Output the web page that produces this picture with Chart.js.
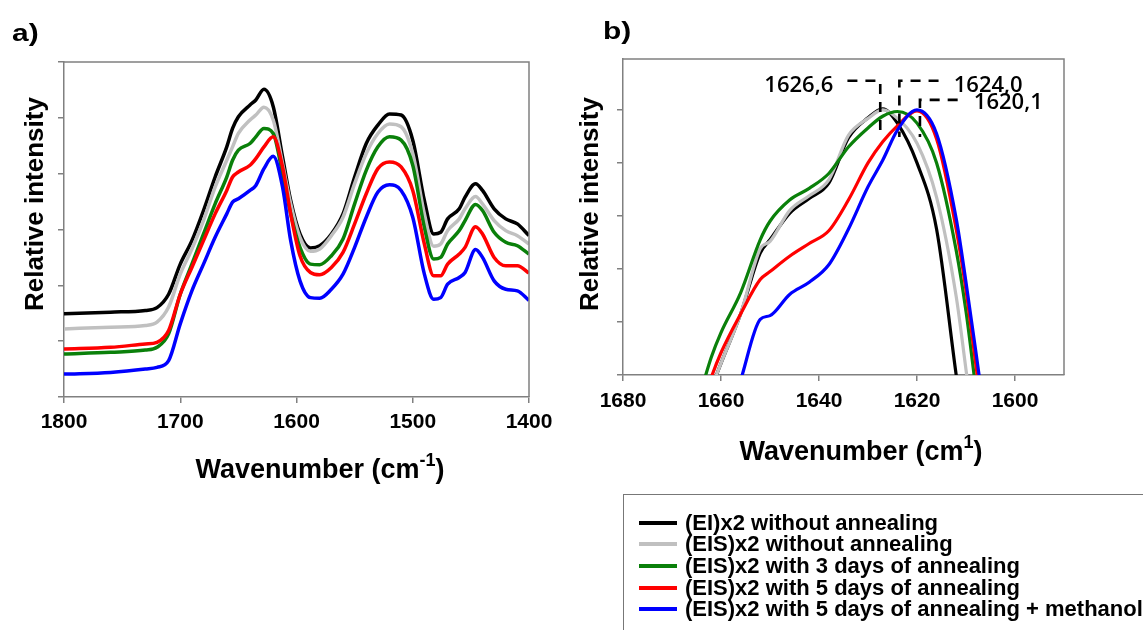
<!DOCTYPE html>
<html>
<head>
<meta charset="utf-8">
<script src="https://cdn.jsdelivr.net/npm/chart.js@4.4.1/dist/chart.umd.min.js"></script>
<style>
  body { margin: 0; background: #fff; width: 1143px; height: 630px; overflow: hidden; position: relative;
         font-family: "Liberation Sans", Arial, sans-serif; color: #000; }
  .abs { position: absolute; }
  #wrapA { left: 0; top: 0; width: 570px; height: 500px; }
  #wrapB { left: 580px; top: 0; width: 563px; height: 500px; }
  .panel { font-weight: bold; font-size: 23px; line-height: 23px; transform: scaleX(1.3); transform-origin: left top; }
  .ytitle { font-weight: bold; font-size: 26px; line-height: 26px; white-space: nowrap;
            transform: translate(-50%, -50%) rotate(-90deg); }
  .xtitle { font-weight: bold; font-size: 27px; line-height: 27px; white-space: nowrap; transform: translateX(-50%); }
  .xtitle sup { font-size: 18px; vertical-align: 0; position: relative; top: -12px; }
  #legend { left: 623px; top: 494px; width: 560px; height: 200px; border: 1.5px solid #777;
            padding-top: 17px; box-sizing: border-box; }
  #legend .row { display: flex; align-items: center; height: 21.6px; padding-left: 15px;
                 font-weight: bold; font-size: 22px; white-space: nowrap; }
  #legend .sw { display: inline-block; width: 38px; height: 4px; margin-right: 8px; }
</style>
</head>
<body>
<div id="wrapA" class="abs"><canvas id="chartA" width="570" height="500"></canvas></div>
<div id="wrapB" class="abs"><canvas id="chartB" width="563" height="500"></canvas></div>

<div class="abs panel" style="left:12px; top:22px;">a)</div>
<div class="abs panel" style="left:603px; top:20px;">b)</div>
<div class="abs ytitle" style="left:34px; top:204px;">Relative intensity</div>
<div class="abs ytitle" style="left:589px; top:204px;">Relative intensity</div>
<div class="abs xtitle" style="left:320px; top:456px;">Wavenumber (cm<sup>-1</sup>)</div>
<div class="abs xtitle" style="left:861px; top:438px;">Wavenumber (cm<sup>1</sup>)</div>
<div id="legend" class="abs"></div>

<script>
Chart.defaults.font.family = '"Liberation Sans", Arial, sans-serif';

const names = [
  "(EI)x2 without annealing",
  "(EIS)x2 without annealing",
  "(EIS)x2 with 3 days of annealing",
  "(EIS)x2 with 5 days of annealing",
  "(EIS)x2 with 5 days of annealing + methanol"
];
const colors = ["#000000", "#c0c0c0", "#0a800a", "#ff0000", "#0000ff"];

// panel a) full spectra
const waveA = [1800, 1760, 1730, 1720, 1710, 1700, 1690, 1680, 1670, 1660, 1655, 1650, 1640, 1635, 1628, 1620,
  1612, 1605, 1597, 1588, 1580, 1570, 1560, 1550, 1540, 1530, 1520, 1510, 1500, 1490, 1482, 1476, 1470, 1460,
  1455, 1446, 1440, 1430, 1420, 1410, 1400];
const blackA = [1.49, 1.52, 1.55, 1.60, 1.84, 2.38, 2.80, 3.34, 3.94, 4.48, 4.81, 5.02, 5.23, 5.32, 5.51, 5.20,
  4.30, 3.52, 2.92, 2.67, 2.71, 2.92, 3.28, 3.94, 4.54, 4.87, 5.07, 5.05, 4.60, 3.52, 2.92, 2.95, 3.19, 3.37,
  3.58, 3.82, 3.70, 3.37, 3.19, 3.10, 2.89];
const grayA = [1.22, 1.25, 1.28, 1.34, 1.61, 2.20, 2.65, 3.16, 3.76, 4.24, 4.48, 4.72, 4.96, 5.05, 5.19, 4.96,
  4.18, 3.46, 2.86, 2.61, 2.65, 2.89, 3.22, 3.82, 4.36, 4.72, 4.89, 4.84, 4.36, 3.28, 2.70, 2.74, 2.98, 3.19,
  3.37, 3.59, 3.46, 3.16, 2.98, 2.89, 2.74];
const greenA = [0.77, 0.80, 0.84, 0.89, 1.13, 1.84, 2.38, 2.92, 3.46, 3.94, 4.24, 4.42, 4.54, 4.66, 4.81, 4.72,
  4.00, 3.28, 2.68, 2.38, 2.37, 2.53, 2.83, 3.46, 4.06, 4.48, 4.66, 4.60, 4.15, 3.04, 2.47, 2.50, 2.74, 2.98,
  3.16, 3.45, 3.34, 2.95, 2.77, 2.71, 2.56];
const redA = [0.86, 0.89, 0.95, 0.98, 1.19, 1.84, 2.32, 2.80, 3.28, 3.70, 3.94, 4.03, 4.15, 4.27, 4.48, 4.66,
  4.12, 3.28, 2.53, 2.23, 2.19, 2.32, 2.59, 3.10, 3.64, 4.09, 4.21, 4.12, 3.70, 2.74, 2.17, 2.17, 2.38, 2.56,
  2.68, 3.05, 2.92, 2.50, 2.35, 2.35, 2.22];
const blueA = [0.41, 0.44, 0.50, 0.53, 0.65, 1.31, 1.90, 2.38, 2.86, 3.28, 3.49, 3.55, 3.70, 3.79, 4.09, 4.31,
  3.76, 2.80, 2.08, 1.78, 1.77, 1.93, 2.20, 2.68, 3.22, 3.67, 3.80, 3.70, 3.22, 2.20, 1.75, 1.78, 2.02, 2.14,
  2.23, 2.64, 2.50, 2.08, 1.93, 1.90, 1.73];
const ticksAx = [1800, 1700, 1600, 1500, 1400];
const ticksAy = [0, 1, 2, 3, 4, 5, 6];

// panel b) zoom on the amide I peak
const waveB = [1665, 1662, 1660, 1656, 1652, 1650, 1646, 1642, 1638, 1634, 1630, 1627, 1624, 1620, 1616, 1612,
  1610, 1608, 1606];
const blackB = [-0.9, -0.25, 0.22, 1.15, 2.30, 2.55, 3.05, 3.33, 3.62, 4.47, 4.85, 5.02, 4.75, 4.00, 2.75, 0.0,
  -1.3, -2.6, -3.9];
const grayB = [-0.9, -0.25, 0.22, 1.15, 2.38, 2.52, 3.10, 3.38, 3.68, 4.52, 4.84, 5.00, 4.84, 4.37, 3.35, 1.48,
  0.1, -1.3, -2.6];
const greenB = [-0.6, 0.33, 0.80, 1.55, 2.55, 2.90, 3.30, 3.52, 3.80, 4.30, 4.66, 4.88, 4.97, 4.75, 4.00, 2.35,
  1.20, -0.25, -1.6];
const redB = [-0.9, -0.05, 0.42, 1.15, 1.80, 1.95, 2.24, 2.48, 2.72, 3.30, 4.00, 4.40, 4.70, 4.98, 4.45, 2.75,
  1.60, 0.20, -1.2];
const blueB = [-2.8, -1.9, -1.25, -0.1, 1.05, 1.12, 1.52, 1.75, 2.08, 2.75, 3.55, 4.05, 4.62, 5.00, 4.55, 2.95,
  1.75, 0.45, -0.9];
const ticksBx = [1680, 1660, 1640, 1620, 1600];
const ticksBy = [0, 1, 2, 3, 4, 5];

// dashed peak markers in panel b
const markX1 = [1634.2, 1627.5, 1627.5], markY1 = [5.55, 5.55, 4.49];
const markX2 = [1615.6, 1623.6, 1623.6], markY2 = [5.55, 5.55, 4.49];
const markX3 = [1611.7, 1619.4, 1619.4], markY3 = [5.19, 5.19, 4.49];
const markText = ["1626,6", "1624,0", "1620,1"];
const markTextX = [1637.1, 1612.5, 1608.4];
const markTextY = [5.45, 5.45, 5.13];
const markAlign = ["right", "left", "left"];

function toPoints(xs, ys) {
  return xs.map((x, k) => ({ x: x, y: ys[k] }));
}

function series(xs, ys, i, bw) {
  return {
    label: names[i],
    data: toPoints(xs, ys),
    borderColor: colors[i],
    borderWidth: bw,
    pointRadius: 0,
    cubicInterpolationMode: "monotone",
    fill: false,
    order: names.length - i
  };
}

function marker(xs, ys) {
  return {
    label: "marker",
    data: toPoints(xs, ys),
    borderColor: "#000",
    borderWidth: 2.6,
    borderDash: [10, 8],
    pointRadius: 0,
    tension: 0,
    fill: false,
    order: -1
  };
}

const axisLine = { color: "#808080", width: 1.5 };
const tickGrid = { drawOnChartArea: false, drawTicks: true, tickLength: 6, color: "#808080", lineWidth: 1.5 };

function xAxis(min, max, ticks, h, pad) {
  return {
    type: "linear", reverse: true, min: min, max: max,
    afterBuildTicks: ax => { ax.ticks = ticks.map(v => ({ value: v })); },
    afterFit: ax => { ax.height = h; },
    ticks: { color: "#000", font: { size: 21, weight: "bold" }, padding: pad, maxRotation: 0, autoSkip: false,
             callback: v => String(v) },
    grid: tickGrid,
    border: axisLine
  };
}

function yAxis(min, max, ticks, w) {
  return {
    type: "linear", min: min, max: max,
    afterBuildTicks: ax => { ax.ticks = ticks.map(v => ({ value: v })); },
    afterFit: ax => { ax.width = w; },
    ticks: { callback: () => "", padding: 0 },
    grid: tickGrid,
    border: axisLine
  };
}

// top and right side of the plot box
const framePlugin = {
  id: "frame",
  afterDatasetsDraw(chart) {
    const { ctx, chartArea: a } = chart;
    ctx.save();
    ctx.strokeStyle = "#808080";
    ctx.lineWidth = 1.5;
    ctx.beginPath();
    ctx.moveTo(a.left, a.top);
    ctx.lineTo(a.right, a.top);
    ctx.lineTo(a.right, a.bottom);
    ctx.stroke();
    ctx.restore();
  }
};

const markLabels = {
  id: "markLabels",
  afterDatasetsDraw(chart) {
    const { ctx, scales } = chart;
    ctx.save();
    ctx.font = '600 22px "Open Sans"';
    ctx.fillStyle = "#000";
    ctx.textBaseline = "middle";
    markText.forEach((t, i) => {
      ctx.textAlign = markAlign[i];
      ctx.fillText(t, scales.x.getPixelForValue(markTextX[i]), scales.y.getPixelForValue(markTextY[i]));
    });
    ctx.restore();
  }
};

const common = {
  responsive: false,
  animation: false,
  plugins: { legend: { display: false }, tooltip: { enabled: false } }
};

new Chart(document.getElementById("chartA"), {
  type: "line",
  data: {
    datasets: [
      series(waveA, blackA, 0, 3.5),
      series(waveA, grayA, 1, 3.5),
      series(waveA, greenA, 2, 3.5),
      series(waveA, redA, 3, 3.5),
      series(waveA, blueA, 4, 3.5)
    ]
  },
  options: Object.assign({}, common, {
    layout: { padding: { left: 0, top: 62, right: 41, bottom: 0 } },
    scales: {
      x: xAxis(1400, 1800, ticksAx, 103, 7),
      y: yAxis(0, 6, ticksAy, 64)
    }
  }),
  plugins: [framePlugin]
});

new Chart(document.getElementById("chartB"), {
  type: "line",
  data: {
    datasets: [
      series(waveB, blackB, 0, 3.2),
      series(waveB, grayB, 1, 3.2),
      series(waveB, greenB, 2, 3.2),
      series(waveB, redB, 3, 3.2),
      series(waveB, blueB, 4, 3.2),
      marker(markX1, markY1),
      marker(markX2, markY2),
      marker(markX3, markY3)
    ]
  },
  options: Object.assign({}, common, {
    layout: { padding: { left: 0, top: 59, right: 79, bottom: 0 } },
    scales: {
      x: xAxis(1590, 1680, ticksBx, 125, 8),
      y: yAxis(0, 5.96, ticksBy, 43)
    }
  }),
  plugins: [framePlugin, markLabels]
});

// legend box under panel b
const legend = document.getElementById("legend");
names.forEach((n, i) => {
  const row = document.createElement("div");
  row.className = "row";
  row.innerHTML = '<span class="sw" style="background:' + colors[i] + '"></span><span>' + n + "</span>";
  legend.appendChild(row);
});
</script>
</body>
</html>
